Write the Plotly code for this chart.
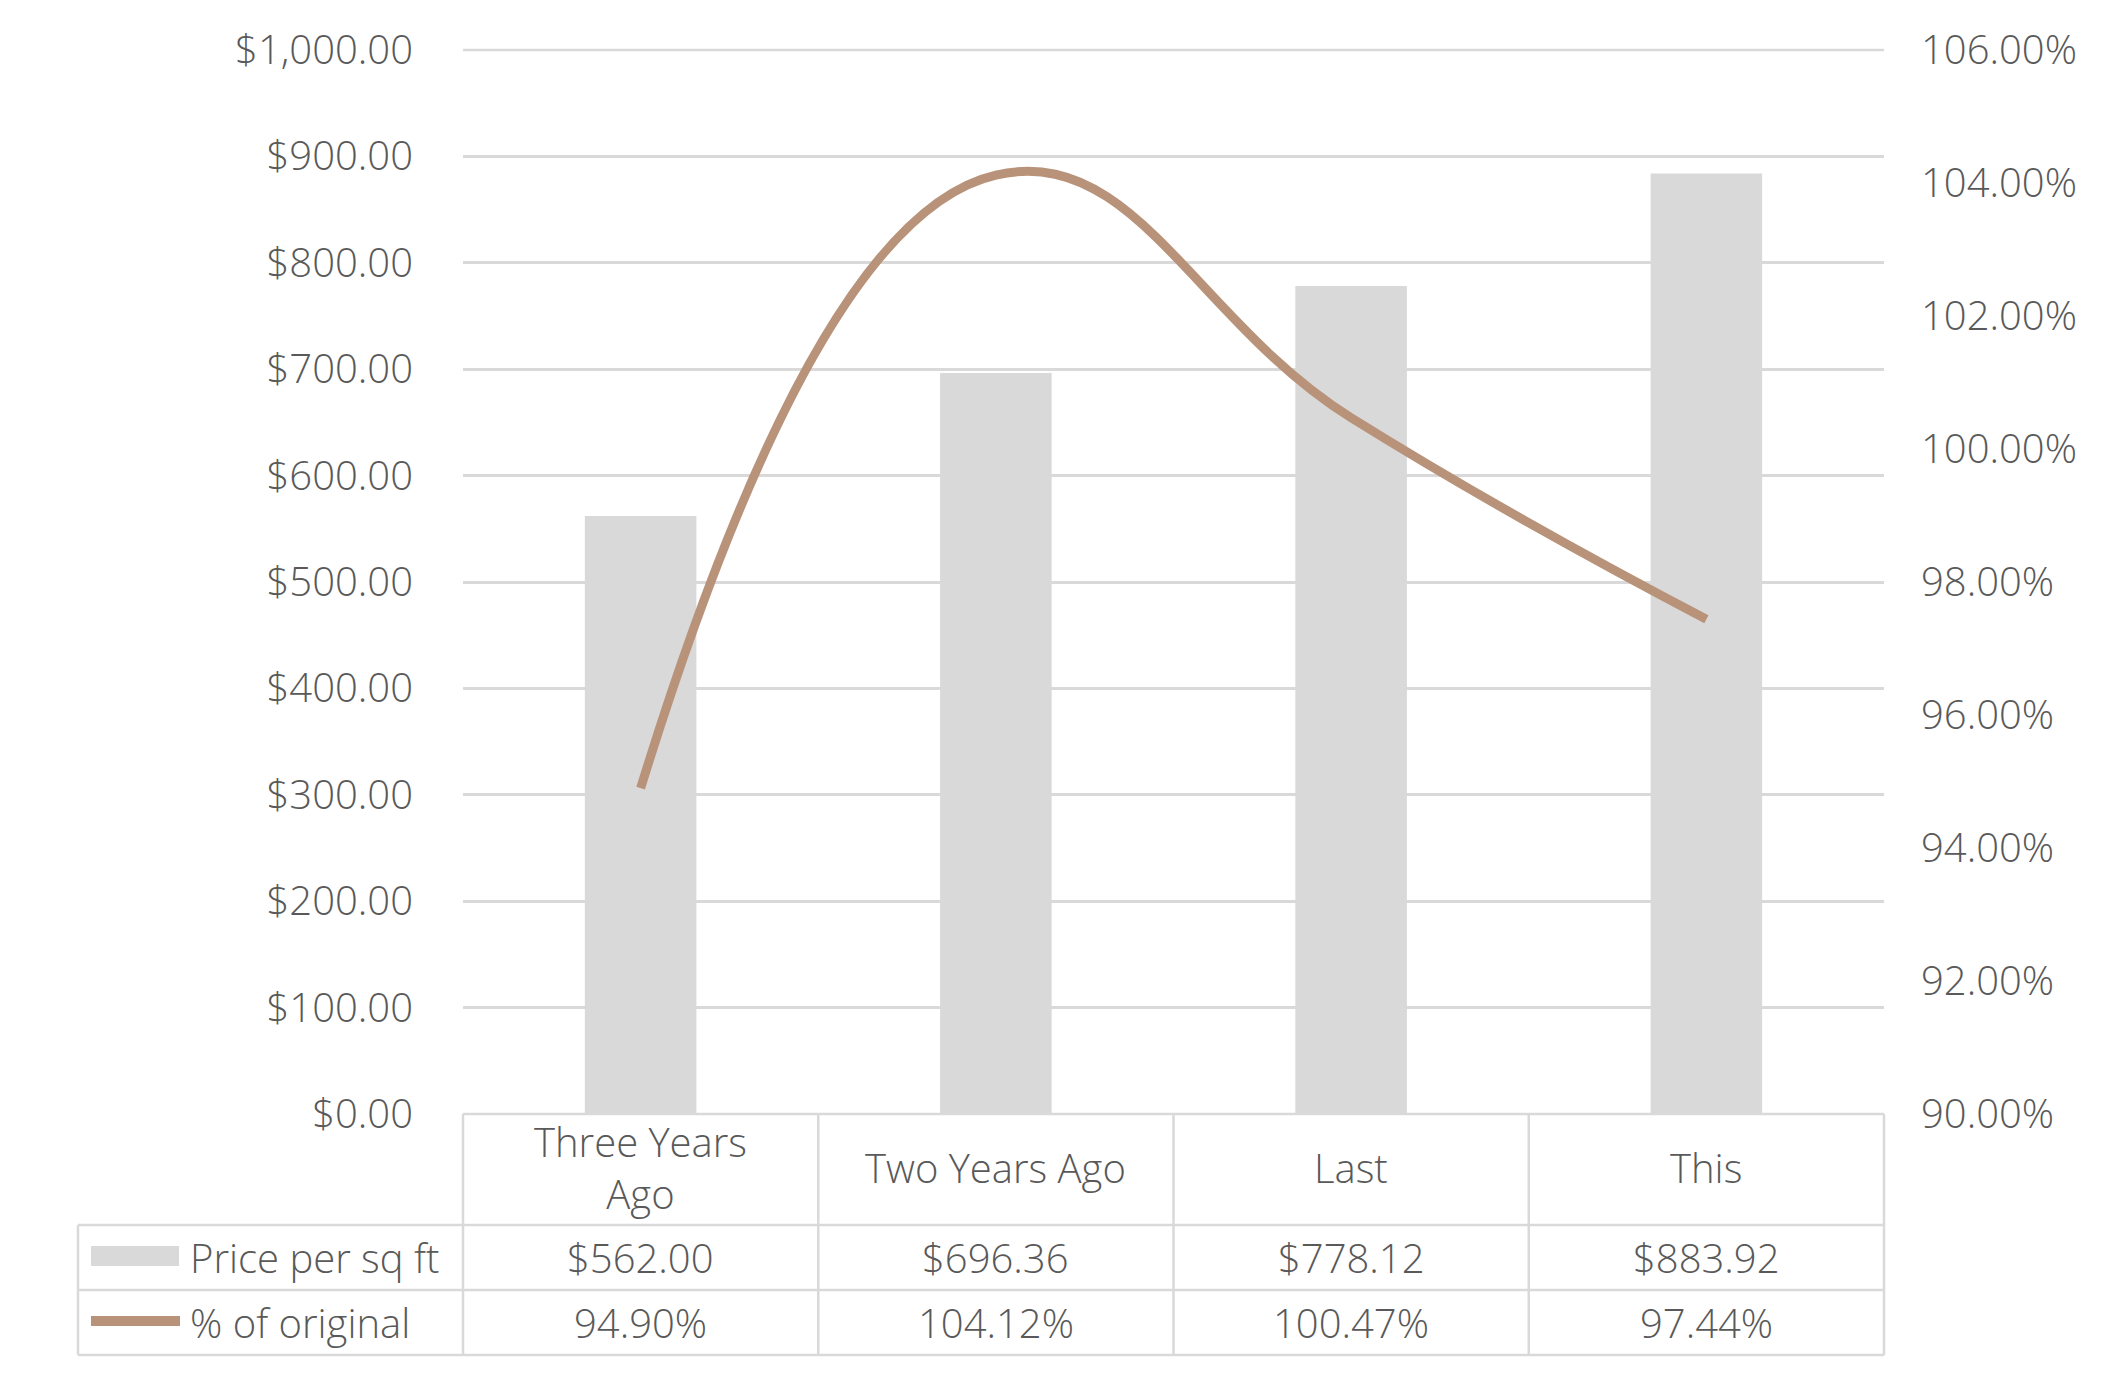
import plotly.graph_objects as go

# ---- data ----
categories = ["Three Years Ago", "Two Years Ago", "Last", "This"]
category_labels = ["Three Years<br>Ago", "Two Years Ago", "Last", "This"]
price_per_sqft = [562.00, 696.36, 778.12, 883.92]
pct_of_original = [94.90, 104.12, 100.47, 97.44]
series_names = ["Price per sq ft", "% of original"]
left_ticks = [0, 100, 200, 300, 400, 500, 600, 700, 800, 900, 1000]
right_ticks = [90, 92, 94, 96, 98, 100, 102, 104, 106]

# ---- layout geometry (screen pixels) ----
W, H = 2107, 1379
OFF = 8  # default body margin of the html page
PL, PR, PT, PB = 463, 1884, 50, 1114
pw, ph = PR - PL, PB - PT
FW, FH = W - 2 * OFF, H - 2 * OFF

def px(x):
    return (x - PL) / pw

def py(y):
    return (PB - y) / ph

FONT = "Open Sans"
TXT = "#595959"
GRID = "#d9d9d9"
BAR = "#d9d9d9"
LINE = "#b8937a"
FS = 40
FW8 = 300

def f():
    return dict(family=FONT, size=FS, color=TXT, weight=FW8)

fig = go.Figure()
fig.add_trace(go.Bar(x=categories, y=price_per_sqft, name=series_names[0],
                     marker=dict(color=BAR, line=dict(width=0)), yaxis="y"))
fig.add_trace(go.Scatter(x=categories, y=pct_of_original, name=series_names[1],
                         mode="lines", line=dict(color=LINE, width=9, shape="spline", smoothing=1.3),
                         yaxis="y2"))

shapes = []
line_style = dict(color=GRID, width=2.5)
# top gridline (at range edge)
shapes.append(dict(type="line", xref="paper", yref="paper", x0=0, x1=1, y0=1, y1=1, line=line_style, layer="below"))
# table horizontal lines
shapes.append(dict(type="line", xref="paper", yref="paper", x0=0, x1=1, y0=0, y1=0, line=line_style))
for yy in (1225, 1290, 1355):
    shapes.append(dict(type="line", xref="paper", yref="paper", x0=px(78), x1=1, y0=py(yy), y1=py(yy), line=line_style))
# verticals
for i in range(len(categories) + 1):
    xv = i / len(categories)
    shapes.append(dict(type="line", xref="paper", yref="paper", x0=xv, x1=xv, y0=0, y1=py(1355), line=line_style))
shapes.append(dict(type="line", xref="paper", yref="paper", x0=px(78), x1=px(78), y0=py(1225), y1=py(1355), line=line_style))
# legend swatches
shapes.append(dict(type="rect", xref="paper", yref="paper", x0=px(91), x1=px(179), y0=py(1266), y1=py(1246),
                   fillcolor=BAR, line=dict(width=0)))
shapes.append(dict(type="line", xref="paper", yref="paper", x0=px(91), x1=px(180), y0=py(1321), y1=py(1321),
                   line=dict(color=LINE, width=10)))

annotations = []
for cat, lab, pv, qv in zip(categories, category_labels, price_per_sqft, pct_of_original):
    annotations.append(dict(x=cat, xref="x", y=py(1167), yref="paper", text=lab, showarrow=False,
                            xanchor="center", yanchor="middle", font=f()))
    annotations.append(dict(x=cat, xref="x", y=py(1257), yref="paper", text=f"${pv:,.2f}", showarrow=False,
                            xanchor="center", yanchor="middle", font=f()))
    annotations.append(dict(x=cat, xref="x", y=py(1322), yref="paper", text=f"{qv:.2f}%", showarrow=False,
                            xanchor="center", yanchor="middle", font=f()))
annotations.append(dict(x=px(188), xref="paper", y=py(1257), yref="paper", text=series_names[0], showarrow=False,
                        xanchor="left", yanchor="middle", font=f()))
annotations.append(dict(x=px(188), xref="paper", y=py(1322), yref="paper", text=series_names[1], showarrow=False,
                        xanchor="left", yanchor="middle", font=f()))

fig.update_layout(
    width=FW, height=FH,
    margin=dict(l=PL - OFF, r=FW - (PR - OFF), t=PT - OFF, b=FH - (PB - OFF), pad=0),
    paper_bgcolor="white", plot_bgcolor="white",
    showlegend=False,
    bargap=0.686,
    font=f(),
    xaxis=dict(type="category", range=[-0.5, 3.5], showticklabels=False, showgrid=False,
               zeroline=False, showline=False, ticks=""),
    yaxis=dict(range=[0, 1000], tickmode="array", tickvals=left_ticks,
               ticktext=[f"${v:,.2f}" for v in left_ticks],
               showgrid=True, gridcolor=GRID, gridwidth=2.5, zeroline=False, showline=False,
               ticks="outside", ticklen=41, tickcolor="rgba(0,0,0,0)", tickfont=f()),
    yaxis2=dict(range=[90, 106], tickmode="array", tickvals=right_ticks,
                ticktext=[f"{v:.2f}%" for v in right_ticks],
                overlaying="y", side="right", showgrid=False, zeroline=False, showline=False,
                ticks="outside", ticklen=28, tickcolor="rgba(0,0,0,0)", tickfont=f()),
    shapes=shapes,
    annotations=annotations,
)

fig.write_html("out.html")
